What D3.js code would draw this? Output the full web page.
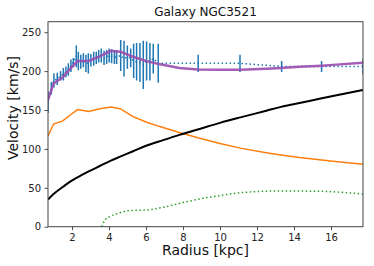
<!DOCTYPE html>
<html>
<head>
<meta charset="utf-8">
<script src="https://cdn.jsdelivr.net/npm/d3@7"></script>
<style>
  body { margin: 0; background: #fff; }
  svg { display: block; font-family: "DejaVu Sans", sans-serif; }
</style>
</head>
<body>
<div id="chart"></div>
<script>
// observed rotation curve (points + error bars)
const obsR = [0.70, 0.88, 1.02, 1.20, 1.38, 1.53, 1.67, 1.80, 1.94, 2.07, 2.23, 2.34, 2.47, 2.61, 2.75, 2.88, 3.02, 3.17, 3.31, 3.44, 3.58, 3.73, 3.87, 4.01, 4.14, 4.29, 4.41, 4.63, 4.81, 4.99, 5.17, 5.33, 5.49, 5.67, 5.85, 6.03, 6.21, 6.39, 6.66, 8.82, 11.08, 13.33, 15.49, 17.73];
const obsV = [160, 178, 188, 190, 194, 196, 199, 202, 207, 211, 219, 213, 212, 214, 210, 210, 214, 216, 217, 219, 220, 217, 218, 220, 219, 218, 218, 220, 216, 218, 217, 213, 212, 211, 208, 213, 212, 216, 210, 210, 210, 206, 206, 206];
const obsErr = [14, 8, 9, 8, 6, 8, 7, 8, 8, 6, 14, 12, 9, 9, 11, 13, 8, 9, 8, 8, 9, 9, 9, 9, 9, 9, 9, 20, 23, 15, 12, 22, 24, 25, 31, 25, 24, 19, 25, 11, 11, 7, 7, 10];

// model curves
const modelR = [0.70, 1.0, 1.5, 1.9, 2.3, 2.9, 3.5, 4.1, 4.6, 5.3, 6.0, 6.7, 7.8, 8.8, 10.0, 11.1, 12.5, 13.3, 14.3, 15.5, 16.1, 17.73];
const totalV = [163, 184, 192, 203, 213, 213, 219, 226, 225, 218.5, 213, 209, 204, 202, 201.8, 201.8, 203, 204, 205.5, 207, 208, 210.8];
const diskV = [116.6, 132, 136, 143.6, 150.5, 148, 151.5, 154, 151.7, 141.4, 134.5, 129, 121, 114.3, 107, 101, 95, 92.3, 89, 85.7, 84, 80.2];
const haloV = [35, 42, 51, 58, 63.5, 71, 78, 85, 90, 97, 104, 109.5, 118, 125, 133.5, 140.5, 149, 154, 159, 165, 168, 175.7];

const gasR = [3.6, 3.78, 4.05, 4.59, 5.04, 6.03, 6.93, 8.0, 9.1, 10.0, 11.08, 13.24, 15.4, 17.73];
const gasV = [0, 8.6, 13, 18, 20.6, 21.5, 25, 31, 36.5, 40, 43.7, 45.9, 45.5, 42];

const xTicks = [2, 4, 6, 8, 10, 12, 14, 16];
const yTicks = [0, 50, 100, 150, 200, 250];

const width = 374, height = 266;
const margin = { top: 21.7, right: 11, bottom: 39.3, left: 48 };

const svg = d3.select("#chart").append("svg")
    .attr("width", width)
    .attr("height", height);

const x = d3.scaleLinear()
    .domain([0.7, 17.73])
    .range([margin.left, width - margin.right]);
const y = d3.scaleLinear()
    .domain([0, 263.5])
    .range([height - margin.bottom, margin.top]);

svg.append("clipPath").attr("id", "clip")
  .append("rect")
    .attr("x", margin.left).attr("y", margin.top)
    .attr("width", width - margin.left - margin.right)
    .attr("height", height - margin.top - margin.bottom);

const plot = svg.append("g").attr("clip-path", "url(#clip)");

const line = d3.line().x(d => x(d[0])).y(d => y(d[1]));
const smooth = d3.line().x(d => x(d[0])).y(d => y(d[1])).curve(d3.curveMonotoneX);
const zip = (a, b) => a.map((v, i) => [v, b[i]]);

// error bars
plot.selectAll("line.err")
  .data(obsR.map((r, i) => ({ r, v: obsV[i], e: obsErr[i] })))
  .enter().append("line")
    .attr("class", "err")
    .attr("x1", d => x(d.r)).attr("x2", d => x(d.r))
    .attr("y1", d => y(d.v - d.e)).attr("y2", d => y(d.v + d.e))
    .attr("stroke", "#1f77b4")
    .attr("stroke-width", 1.5);

// observed line (dotted)
plot.append("path")
    .datum(zip(obsR, obsV))
    .attr("fill", "none")
    .attr("stroke", "#1f77b4")
    .attr("stroke-width", 1.5)
    .attr("stroke-dasharray", "1.5,2.5")
    .attr("d", line);

// total fit
plot.append("path")
    .datum(zip(modelR, totalV))
    .attr("fill", "none")
    .attr("stroke", "#9b4cae")
    .attr("stroke-opacity", 0.9)
    .attr("stroke-width", 2.5)
    .attr("d", line);

// stellar disk
plot.append("path")
    .datum(zip(modelR, diskV))
    .attr("fill", "none")
    .attr("stroke", "#ff7f0e")
    .attr("stroke-width", 1.5)
    .attr("d", line);

// dark halo
plot.append("path")
    .datum(zip(modelR, haloV))
    .attr("fill", "none")
    .attr("stroke", "#000")
    .attr("stroke-width", 2)
    .attr("d", smooth);

// gas
plot.append("path")
    .datum(zip(gasR, gasV))
    .attr("fill", "none")
    .attr("stroke", "#2ca02c")
    .attr("stroke-width", 1.5)
    .attr("stroke-dasharray", "1.5,2.5")
    .attr("d", smooth);

// axes
const xAxis = svg.append("g")
    .attr("transform", `translate(0, ${height - margin.bottom})`)
    .call(d3.axisBottom(x).tickValues(xTicks).tickSize(3.5).tickPadding(3.5).tickFormat(d3.format("d")));
const yAxis = svg.append("g")
    .attr("transform", `translate(${margin.left}, 0)`)
    .call(d3.axisLeft(y).tickValues(yTicks).tickSize(3.5).tickPadding(3.5).tickFormat(d3.format("d")));

[xAxis, yAxis].forEach(g => {
  g.select(".domain").remove();
  g.selectAll("line").attr("stroke", "#222").attr("stroke-width", 0.8);
  g.selectAll("text")
      .attr("fill", "#222")
      .style("font-size", "10px")
      .style("font-family", "DejaVu Sans, sans-serif");
});

// frame
svg.append("rect")
    .attr("x", margin.left).attr("y", margin.top)
    .attr("width", width - margin.left - margin.right)
    .attr("height", height - margin.top - margin.bottom)
    .attr("fill", "none")
    .attr("stroke", "#444")
    .attr("stroke-width", 1);

// title
svg.append("text")
    .attr("x", (margin.left + width - margin.right) / 2)
    .attr("y", 16)
    .attr("text-anchor", "middle")
    .attr("font-size", "12px")
    .attr("fill", "#111")
    .text("Galaxy NGC3521");

// axis labels
svg.append("text")
    .attr("x", (margin.left + width - margin.right) / 2)
    .attr("y", 255)
    .attr("text-anchor", "middle")
    .attr("font-size", "14px")
    .attr("fill", "#111")
    .text("Radius [kpc]");

svg.append("text")
    .attr("transform", "rotate(-90)")
    .attr("x", -108)
    .attr("y", 18)
    .attr("text-anchor", "middle")
    .attr("font-size", "14px")
    .attr("fill", "#111")
    .text("Velocity [km/s]");
</script>
</body>
</html>
